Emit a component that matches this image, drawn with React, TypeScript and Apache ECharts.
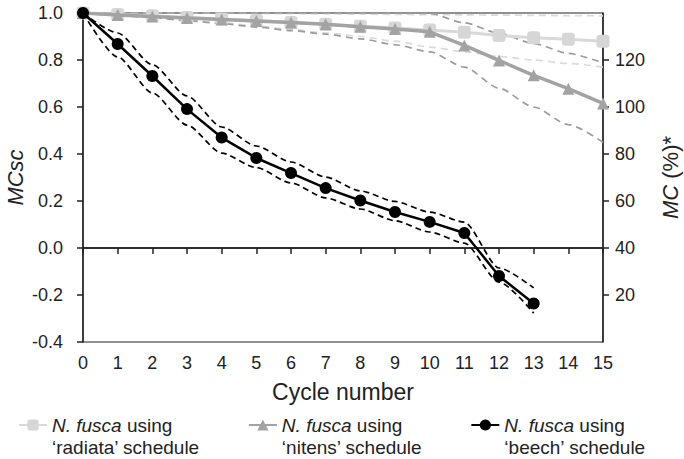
import React, { useEffect, useRef } from "react";
import * as echarts from "echarts";

const FONT = "'Liberation Sans', Arial, Helvetica, sans-serif";

// Cycle numbers
const cycles = [0, 1, 2, 3, 4, 5, 6, 7, 8, 9, 10, 11, 12, 13, 14, 15];

// N. fusca using 'radiata' schedule (MCsc)
const radiata = [1.0, 0.994, 0.988, 0.981, 0.975, 0.968, 0.96, 0.952, 0.944, 0.936, 0.928, 0.918, 0.904, 0.895, 0.888, 0.88];
const radiataUpper = [1.0, 1.0, 1.0, 1.0, 0.999, 0.998, 0.997, 0.996, 0.995, 0.994, 0.993, 0.992, 0.991, 0.99, 0.989, 0.988];
const radiataLower = [1.0, 0.99, 0.98, 0.97, 0.958, 0.945, 0.93, 0.915, 0.9, 0.88, 0.855, 0.835, 0.815, 0.8, 0.785, 0.77];

// N. fusca using 'nitens' schedule (MCsc)
const nitens = [1.0, 0.992, 0.985, 0.979, 0.972, 0.966, 0.96, 0.952, 0.942, 0.932, 0.92, 0.862, 0.798, 0.735, 0.678, 0.615];
const nitensUpper = [1.0, 1.0, 1.0, 1.0, 1.0, 1.0, 1.0, 1.0, 1.0, 1.0, 0.998, 0.958, 0.914, 0.87, 0.828, 0.787];
const nitensLower = [1.0, 0.99, 0.98, 0.967, 0.955, 0.94, 0.925, 0.91, 0.89, 0.865, 0.835, 0.77, 0.68, 0.6, 0.525, 0.45];

// N. fusca using 'beech' schedule (MCsc)
const beech = [1.0, 0.868, 0.732, 0.591, 0.47, 0.383, 0.319, 0.255, 0.202, 0.153, 0.111, 0.064, -0.119, -0.236];
const beechUpper = [1.0, 0.915, 0.78, 0.647, 0.515, 0.434, 0.366, 0.302, 0.243, 0.198, 0.153, 0.11, -0.085, -0.17];
const beechLower = [1.0, 0.813, 0.66, 0.523, 0.404, 0.342, 0.277, 0.213, 0.166, 0.116, 0.068, 0.021, -0.145, -0.277];

// Right axis tick labels, MC (%)
const rightTicks = [20, 40, 60, 80, 100, 120];

const NAME_RADIATA = "N. fusca using \u2018radiata\u2019 schedule";
const NAME_NITENS = "N. fusca using \u2018nitens\u2019 schedule";
const NAME_BEECH = "N. fusca using \u2018beech\u2019 schedule";
const legendText: Record<string, string> = {
  [NAME_RADIATA]: "{i|N. fusca} using\n\u2018radiata\u2019 schedule",
  [NAME_NITENS]: "{i|N. fusca} using\n\u2018nitens\u2019 schedule",
  [NAME_BEECH]: "{i|N. fusca} using\n\u2018beech\u2019 schedule",
};

const pairs = (vals: number[]) => vals.map((v, i) => [cycles[i], v]);

const INK = "#222";

function boundSeries(vals: number[], color: string, dash: number[], width = 1.7) {
  return {
    type: "line",
    data: pairs(vals),
    symbol: "none",
    smooth: 0.25,
    smoothMonotone: "x",
    silent: true,
    lineStyle: { color, width, type: dash },
    z: 2,
  };
}

export default function App() {
  const ref = useRef<HTMLDivElement>(null);
  useEffect(() => {
    const chart = echarts.init(ref.current as HTMLDivElement, null, { renderer: "svg" });
    const option: any = {
      animation: false,
      textStyle: { fontFamily: FONT },
      grid: {
        left: 83,
        right: 81,
        top: 13,
        bottom: 117,
        show: true,
        borderColor: INK,
        borderWidth: 1,
        containLabel: false,
        outerBoundsMode: "none",
      },
      xAxis: {
        type: "value",
        min: 0,
        max: 15,
        interval: 1,
        name: "Cycle number",
        nameLocation: "middle",
        nameGap: 38,
        nameMoveOverlap: false,
        nameTextStyle: { fontSize: 23, color: INK, fontFamily: FONT },
        axisLine: { lineStyle: { color: INK, width: 1.5 } },
        axisTick: { length: 6, lineStyle: { color: INK, width: 1.5 } },
        axisLabel: { fontSize: 18, color: INK, margin: 12, fontFamily: FONT },
        splitLine: { show: false },
      },
      yAxis: [
        {
          type: "value",
          position: "left",
          min: -0.4,
          max: 1.0,
          interval: 0.2,
          name: "MCsc",
          nameLocation: "middle",
          nameRotate: 90,
          nameGap: 57,
          nameMoveOverlap: false,
          nameTextStyle: { fontSize: 22, color: INK, fontStyle: "italic", fontFamily: FONT },
          axisLine: { show: true, lineStyle: { color: INK, width: 1.5 } },
          axisTick: { show: true, length: 6, lineStyle: { color: INK, width: 1.5 } },
          axisLabel: {
            fontSize: 18,
            color: INK,
            margin: 20,
            fontFamily: FONT,
            formatter: (v: number) => v.toFixed(1),
          },
          splitLine: { show: false },
        },
        {
          type: "value",
          position: "right",
          min: 0,
          max: 140,
          interval: 20,
          name: "{i|MC} (%)*",
          nameLocation: "middle",
          nameRotate: 90,
          nameGap: 56,
          nameMoveOverlap: false,
          nameTextStyle: {
            fontSize: 22,
            color: INK,
            fontFamily: FONT,
            rich: { i: { fontSize: 22, fontStyle: "italic", color: INK, fontFamily: FONT } },
          },
          axisLine: { show: true, lineStyle: { color: INK, width: 1.5 } },
          axisTick: { show: true, length: 6, customValues: rightTicks, lineStyle: { color: INK, width: 1.5 } },
          axisLabel: { fontSize: 18, color: INK, margin: 12, fontFamily: FONT, customValues: rightTicks },
          splitLine: { show: false },
        },
      ],
      legend: {
        data: [NAME_RADIATA, NAME_NITENS, NAME_BEECH],
        left: 13,
        top: 387,
        itemWidth: 28,
        itemHeight: 14,
        itemGap: 48,
        selectedMode: false,
        formatter: (name: string) => legendText[name] || name,
        textStyle: {
          fontSize: 19,
          color: INK,
          fontFamily: FONT,
          lineHeight: 22,
          padding: [22, 0, 0, 0],
          rich: { i: { fontSize: 19, fontStyle: "italic", color: INK, fontFamily: FONT, lineHeight: 22 } },
        },
      },
      series: [
        boundSeries(radiataUpper, "#dadada", [7, 5]),
        boundSeries(radiataLower, "#dadada", [7, 5]),
        boundSeries(nitensUpper, "#9c9c9c", [7, 5]),
        boundSeries(nitensLower, "#9c9c9c", [7, 5]),
        boundSeries(beechUpper, "#000", [6, 4]),
        boundSeries(beechLower, "#000", [6, 4]),
        {
          name: NAME_RADIATA,
          type: "line",
          data: pairs(radiata),
          symbol: "roundRect",
          symbolSize: 13,
          lineStyle: { color: "#d9d9d9", width: 3 },
          itemStyle: { color: "#d6d6d6" },
          z: 3,
        },
        {
          name: NAME_NITENS,
          type: "line",
          data: pairs(nitens),
          symbol: "triangle",
          symbolSize: 12,
          lineStyle: { color: "#a3a3a3", width: 3.5 },
          itemStyle: { color: "#a3a3a3" },
          z: 4,
        },
        {
          name: NAME_BEECH,
          type: "line",
          data: pairs(beech),
          symbol: "circle",
          symbolSize: 12,
          lineStyle: { color: "#000", width: 2.5 },
          itemStyle: { color: "#000" },
          z: 5,
          markLine: {
            silent: true,
            symbol: ["none", "none"],
            label: { show: false },
            lineStyle: { color: INK, width: 1.5, type: "solid" },
            data: [{ yAxis: 0 }],
          },
        },
      ],
    };
    chart.setOption(option);
    return () => chart.dispose();
  }, []);
  return (
    <div
      ref={ref}
      style={{ position: "fixed", left: 0, top: 0, width: 684, height: 459, background: "#fff" }}
    />
  );
}
